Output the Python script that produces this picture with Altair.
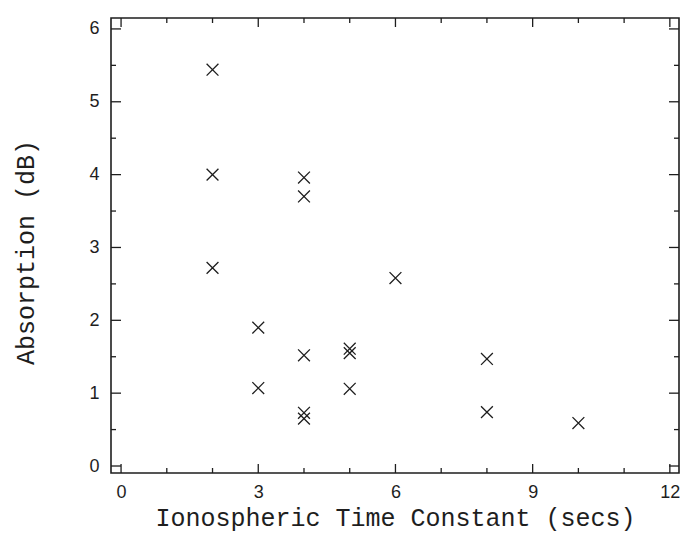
import altair as alt
import pandas as pd

# Ionospheric time constant (s) and measured absorption (dB)
time_constant = [2, 2, 2, 3, 3, 4, 4, 4, 4, 4, 5, 5, 5, 6, 8, 8, 10]
absorption = [5.44, 4.00, 2.72, 1.90, 1.07, 3.96, 3.70, 1.52, 0.73, 0.65,
              1.61, 1.55, 1.06, 2.58, 1.47, 0.74, 0.59]

x_labels = [0, 3, 6, 9, 12]
y_labels = [0, 1, 2, 3, 4, 5, 6]
x_tick_values = list(range(0, 13))
y_tick_values = [i * 0.5 for i in range(0, 13)]

W, H = 568, 455
INK = "#1e1e1e"

x_scale = alt.Scale(domain=[-0.22, 12.2], nice=False, zero=False)
y_scale = alt.Scale(domain=[-0.096, 6.15], nice=False, zero=False)

x_axis = alt.Axis(values=x_labels, ticks=False, domain=False, grid=False,
                  labelFont="Liberation Sans", labelFontSize=18,
                  labelColor=INK, labelPadding=10,
                  title="Ionospheric Time Constant (secs)",
                  titleFont="Liberation Mono", titleFontSize=25,
                  titleFontWeight="normal", titleColor=INK,
                  titleBaseline="alphabetic", titleY=52)
y_axis = alt.Axis(values=y_labels, ticks=False, domain=False, grid=False,
                  labelFont="Liberation Sans", labelFontSize=18,
                  labelColor=INK, labelPadding=12,
                  title="Absorption (dB)",
                  titleFont="Liberation Mono", titleFontSize=25,
                  titleFontWeight="normal", titleColor=INK,
                  titleAngle=270, titleAlign="center",
                  titleBaseline="alphabetic", titleX=-78, titleY=234)

points = pd.DataFrame({"t": time_constant, "a": absorption})
xt = pd.DataFrame({"t": x_tick_values, "major": [v % 3 == 0 for v in x_tick_values]})
yt = pd.DataFrame({"a": y_tick_values, "major": [float(v).is_integer() for v in y_tick_values]})

cross = "M-1,-1L1,1M-1,1L1,-1"

scatter = alt.Chart(points).mark_point(
    shape=cross, filled=False, size=140, strokeWidth=1.3, color=INK, opacity=1
).encode(
    x=alt.X("t:Q", scale=x_scale, axis=x_axis),
    y=alt.Y("a:Q", scale=y_scale, axis=y_axis),
)


def x_ticks(major, length, top):
    base = alt.Chart(xt).transform_filter(
        alt.datum.major if major else ~alt.datum.major
    ).mark_rule(color=INK, strokeWidth=1.3)
    y0, y1 = (0, length) if top else (H, H - length)
    return base.encode(x=alt.X("t:Q", scale=x_scale, axis=x_axis),
                       y=alt.value(y0), y2=alt.value(y1))


def y_ticks(major, length, right):
    base = alt.Chart(yt).transform_filter(
        alt.datum.major if major else ~alt.datum.major
    ).mark_rule(color=INK, strokeWidth=1.3)
    x0, x1 = (W, W - length) if right else (0, length)
    return base.encode(y=alt.Y("a:Q", scale=y_scale, axis=y_axis),
                       x=alt.value(x0), x2=alt.value(x1))


ticks = [
    x_ticks(True, 9, False), x_ticks(False, 5, False),
    x_ticks(True, 9, True), x_ticks(False, 5, True),
    y_ticks(True, 10, False), y_ticks(False, 5, False),
    y_ticks(True, 10, True), y_ticks(False, 5, True),
]

chart = alt.layer(scatter, *ticks).properties(
    width=W, height=H,
    autosize=alt.AutoSizeParams(type="none"),
    padding={"left": 111, "top": 18, "right": 6, "bottom": 64},
    background="white",
).configure_view(stroke=INK, strokeWidth=1.6)

chart.save("out.html", embed_options={"renderer": "svg", "actions": False})
